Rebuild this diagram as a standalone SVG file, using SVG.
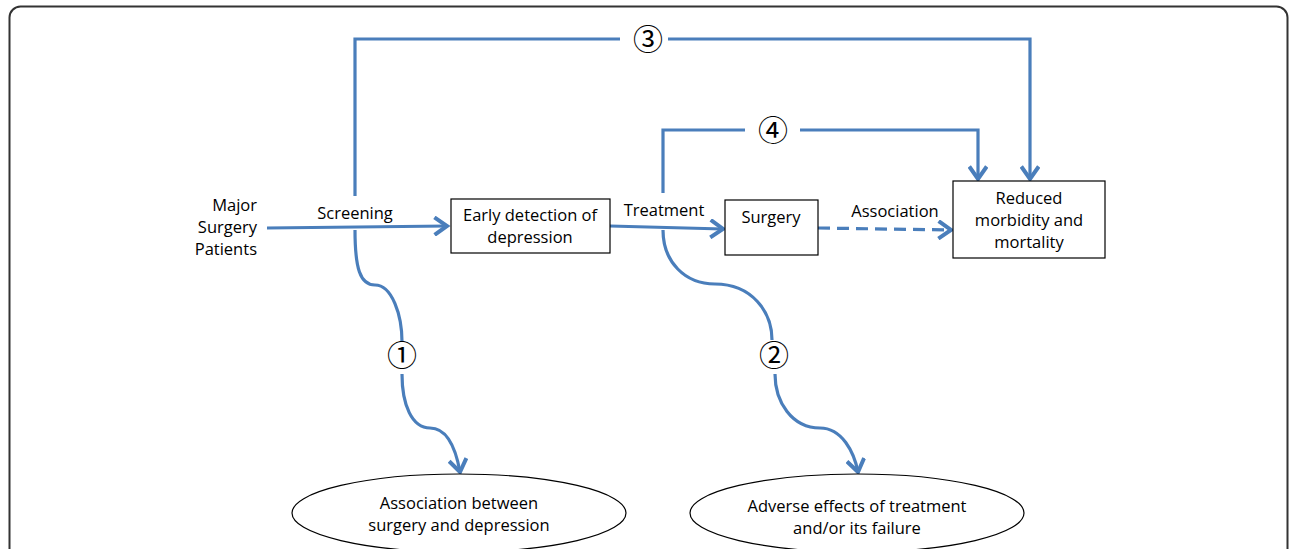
<svg xmlns="http://www.w3.org/2000/svg" width="1296" height="549" viewBox="0 0 1296 549">
<style>
.t{font-family:"Open Sans","Liberation Sans",Arial,sans-serif;font-size:16.5px;fill:#000}
.c{font-family:"Noto Sans CJK JP","DejaVu Sans",sans-serif;font-size:30px;fill:#000;text-anchor:middle}
.box{fill:#fff;stroke:#000;stroke-width:1.2}
.ln{fill:none;stroke:#4a7ebb;stroke-width:3.2}
.m{text-anchor:middle}
.e{text-anchor:end}
</style>
<defs>
<marker id="ah" markerUnits="userSpaceOnUse" markerWidth="20" markerHeight="20" viewBox="-12 -8 14 16" refX="0" refY="0" orient="auto">
<path d="M-10,-7 L0,0 L-10,7" fill="none" stroke="#4a7ebb" stroke-width="3.2" stroke-linejoin="miter"/>
</marker>
</defs>
<rect x="9.5" y="6.5" width="1278" height="600" rx="11" fill="none" stroke="#333" stroke-width="2"/>
<g id="connectors">
<path class="ln" d="M267,228 L447,226" marker-end="url(#ah)"/>
<path class="ln" d="M610,226 L723,229" marker-end="url(#ah)"/>
<path class="ln" d="M818,228 L951,230" stroke-dasharray="12 7" marker-end="url(#ah)"/>
<path class="ln" d="M355,196 L355,39 L620,39"/>
<path class="ln" d="M668,39 L1030,39 L1030,179" marker-end="url(#ah)"/>
<path class="ln" d="M663,193 L663,130 L745,130"/>
<path class="ln" d="M800,130 L978,130 L978,179" marker-end="url(#ah)"/>
<path class="ln" d="M355,230 C355,268 360,285 375,285 C392,285 402,315 402,342"/>
<path class="ln" d="M402,374 C402,405 412,428 430,428 C448,428 456,450 460,472" marker-end="url(#ah)"/>
<path class="ln" d="M663,230 C663,262 685,284 715,284 C752,284 772,312 772,340"/>
<path class="ln" d="M775,374 C775,402 792,428 820,428 C842,428 854,452 858,472" marker-end="url(#ah)"/>
</g>
<g id="num3"><text class="c" x="648" y="50">③</text></g>
<g id="num4"><text class="c" x="773" y="141">④</text></g>
<g id="num1"><text class="c" x="402" y="366">①</text></g>
<g id="num2"><text class="c" x="774" y="366">②</text></g>
<g id="patients">
<text class="t e" x="257" y="211">Major</text>
<text class="t e" x="257" y="233">Surgery</text>
<text class="t e" x="257" y="255">Patients</text>
</g>
<g id="screening"><text class="t m" x="355" y="219">Screening</text></g>
<g id="early">
<rect class="box" x="451" y="199" width="159" height="54"/>
<text class="t m" x="530" y="221">Early detection of</text>
<text class="t m" x="530" y="243">depression</text>
</g>
<g id="treatment"><text class="t m" x="664" y="216">Treatment</text></g>
<g id="surgery">
<rect class="box" x="725" y="200" width="93" height="55"/>
<text class="t m" x="771" y="223">Surgery</text>
</g>
<g id="association"><text class="t m" x="895" y="217">Association</text></g>
<g id="reduced">
<rect class="box" x="953" y="181" width="152" height="77"/>
<text class="t m" x="1029" y="204">Reduced</text>
<text class="t m" x="1029" y="226">morbidity and</text>
<text class="t m" x="1029" y="248">mortality</text>
</g>
<g id="assocEllipse">
<ellipse cx="459" cy="513" rx="167" ry="39" fill="#fff" stroke="#000" stroke-width="1.2"/>
<text class="t m" x="459" y="509">Association between</text>
<text class="t m" x="459" y="531">surgery and depression</text>
</g>
<g id="adverseEllipse">
<ellipse cx="857" cy="513" rx="167" ry="39" fill="#fff" stroke="#000" stroke-width="1.2"/>
<text class="t m" x="857" y="512">Adverse effects of treatment</text>
<text class="t m" x="857" y="534">and/or its failure</text>
</g>
</svg>
